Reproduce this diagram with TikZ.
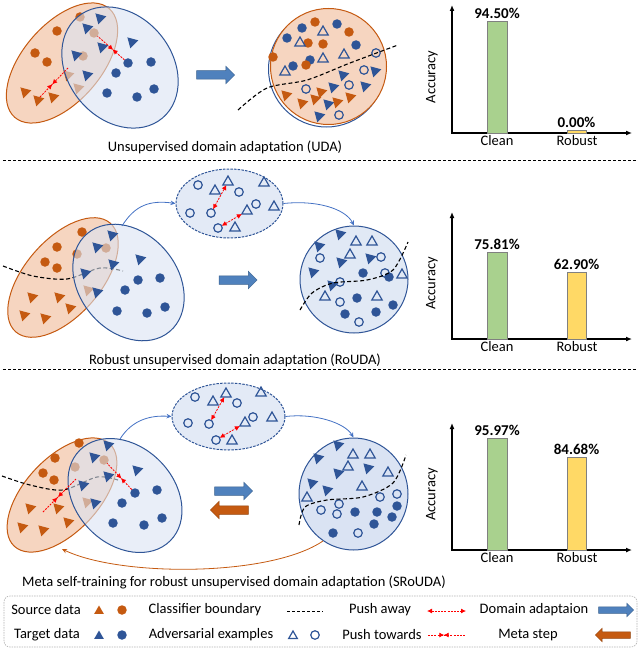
\documentclass[tikz,border=0pt]{standalone}
\usepackage{fontspec}
\setmainfont{Carlito}
\usepackage{xcolor}
\usepackage{tikz}
\usetikzlibrary{shapes,arrows,positioning,calc,decorations.markings,arrows.meta}

\definecolor{srcc}{HTML}{C55A11}
\definecolor{tgtc}{HTML}{2F5597}
\definecolor{srcfill}{HTML}{F6D5C0}
\definecolor{tgtfill}{HTML}{DAE3F3}
\definecolor{arrowblue}{HTML}{4F81BD}
\definecolor{linkblue}{HTML}{4472C4}
\definecolor{barg}{HTML}{A9D18E}
\definecolor{bary}{HTML}{FFD966}

\tikzset{
  mk/.style={inner sep=0pt, outer sep=0pt},
  srcTu/.style={mk, regular polygon, regular polygon sides=3, fill=srcc, minimum size=13pt},
  srcT/.style={srcTu, rotate=-75},
  srcC/.style={mk, circle, fill=srcc, minimum size=9.5pt},
  tgtTu/.style={mk, regular polygon, regular polygon sides=3, fill=tgtc, minimum size=13pt},
  tgtT/.style={tgtTu, rotate=-75},
  tgtC/.style={mk, circle, fill=tgtc, minimum size=9.5pt},
  advT/.style={mk, regular polygon, regular polygon sides=3, draw=tgtc, line width=1.2pt, minimum size=12pt},
  advC/.style={mk, circle, draw=tgtc, line width=1.2pt, minimum size=8.5pt},
  srcell/.style={ellipse, draw=srcc, line width=1pt, fill=srcfill, inner sep=0pt},
  tgtell/.style={ellipse, draw=tgtc, line width=1pt, fill=tgtfill, fill opacity=0.6, inner sep=0pt},
  advell/.style={ellipse, draw=tgtc, line width=1pt, dash pattern=on 2.5pt off 1.2pt, fill=tgtfill!75, inner sep=0pt},
  resell/.style={ellipse, draw=tgtc, line width=1pt, fill=tgtfill!80, inner sep=0pt},
  bnd/.style={line width=1.1pt, dash pattern=on 4pt off 2.5pt},
  pushaway/.style={red, line width=0.8pt, dash pattern=on 2pt off 1.2pt,
    {Latex[length=5pt,width=5pt]}-{Latex[length=5pt,width=5pt]}},
  pushto/.style={red, line width=0.8pt, dash pattern=on 2pt off 1.2pt, postaction={decorate},
    decoration={markings,
      mark=at position 0.44 with {\arrow{Latex[length=5pt,width=5pt]}},
      mark=at position 0.56 with {\arrow{Latex[length=5pt,width=5pt,reversed]}}}},
  link/.style={linkblue, line width=0.8pt, -{Stealth[length=5pt,width=4.5pt]}},
  metalink/.style={srcc, line width=0.8pt, -{Stealth[length=5pt,width=4.5pt]}},
  bigarrow/.style={single arrow, inner xsep=0pt, inner ysep=4pt, single arrow head extend=4.5pt,
    minimum height=38pt, line width=0.5pt},
  daarrow/.style={bigarrow, fill=arrowblue, draw=arrowblue!75!black},
  metaarrow/.style={bigarrow, fill=srcc, draw=srcc!75!black, shape border rotate=180},
  axis/.style={line width=1.2pt, {Latex[length=6pt,width=5pt]}-{Latex[length=6pt,width=5pt]}},
  bar/.style={draw=gray, line width=0.8pt},
  val/.style={font=\fontsize{15}{16}\selectfont\bfseries, inner sep=2.5pt, anchor=south},
  sep/.style={line width=0.8pt, dash pattern=on 3pt off 2pt},
}

\begin{document}
\begin{tikzpicture}[x=1pt, y=-1pt, font=\fontsize{14.5}{16}\selectfont]
    \useasboundingbox (0,0) rectangle (640,650);

    % ---------- UDA ----------
    \node[srcell, minimum width=144pt, minimum height=78pt, rotate=49] (s1) at (62,63) {};
    \foreach \x/\y [count=\i] in {57/31,35/53,47/62,80/17,94/33,83/56}
        \node[srcC] (sc1-\i) at (\x,\y) {};
    \foreach \x/\y [count=\i] in {25/92,38/100,53/97,68/75,78/88}
        \node[srcT] (st1-\i) at (\x,\y) {};
    \node[tgtell, minimum width=132pt, minimum height=104pt, rotate=-50] (t1) at (120,67.5) {};
    \foreach \x/\y [count=\i] in {100/18,87/28,102/47,76/55,87/75,132/42}
        \node[tgtT] (tt1-\i) at (\x,\y) {};
    \foreach \x/\y [count=\i] in {128/63,151/62,116/73,107/93,137/97,154/89}
        \node[tgtC] (tc1-\i) at (\x,\y) {};
    \draw[pushto] (tc1-1) -- (sc1-5);
    \coordinate (pt1a) at (40,97);
    \coordinate (pt1b) at (68,68);
    \draw[pushto] (pt1a) -- (pt1b);

    \node[daarrow] (da1) at (213.5,75) {};

    % mixed domain after UDA
    \node[circle, draw=tgtc, line width=1pt, minimum size=116pt, inner sep=0pt] (u1b) at (326.5,69) {};
    \node[circle, draw=srcc, line width=1pt, fill=srcfill, minimum size=116pt, inner sep=0pt] (u1) at (328.5,66.5) {};
    \foreach \x/\y [count=\i] in {302/28,337/24,287/38,356/45,293/66,310/60}
        \node[tgtC] (uf1-\i) at (\x,\y) {};
    \foreach \x/\y [count=\i] in {315/22,349/32,308/43,323/44,273/57,306/65}
        \node[srcC] (us1-\i) at (\x,\y) {};
    \foreach \x/\y [count=\i] in {323/32,300/43,323/59,344/55,285/72}
        \node[advT] (ua1-\i) at (\x,\y) {};
    \foreach \x/\y [count=\i] in {376/53,364/70,306/89,349/85,339/115}
        \node[advC] (uc1-\i) at (\x,\y) {};
    \foreach \x/\y [count=\i] in {375/71,343/75,333/87,365/86,328/104,319/116}
        \node[tgtT] (ut1-\i) at (\x,\y) {};
    \foreach \x/\y [count=\i] in {286/95,302/103,321/92,315/99,337/102,350/97}
        \node[srcT] (uo1-\i) at (\x,\y) {};
    \draw[bnd] plot[smooth] coordinates {(238,110) (267,88) (307,80) (350,63) (398,45)};

    \node (cap1) at (225,147) {Unsupervised domain adaptation (UDA)};
    \draw[sep] (3,160) -- (637,160);

    % ---------- RoUDA ----------
    \node[srcell, minimum width=144pt, minimum height=76pt, rotate=49] (s2) at (63,277.5) {};
    \foreach \x/\y [count=\i] in {82/232,57/247,45/262,57/268,77/254,106/248}
        \node[srcC] (sc2-\i) at (\x,\y) {};
    \foreach \x/\y [count=\i] in {32/297,59/297,70/308,24/315,45/318,88/290}
        \node[srcT] (st2-\i) at (\x,\y) {};
    \draw[bnd] plot[smooth] coordinates {(3,266) (33,276) (67,279) (100,268) (123,271)};
    \node[tgtell, minimum width=128pt, minimum height=98pt, rotate=-50] (t2) at (128.5,282.5) {};
    \foreach \x/\y [count=\i] in {112/235,97/247,113/264,85/273,97/292,140/259}
        \node[tgtT] (tt2-\i) at (\x,\y) {};
    \foreach \x/\y [count=\i] in {138/280,160/278,125/290,165/307,117/311,147/313}
        \node[tgtC] (tc2-\i) at (\x,\y) {};

    % adversarial examples
    \node[advell, minimum width=107pt, minimum height=69pt] (a2) at (229.5,203.5) {};
    \foreach \x/\y [count=\i] in {198/185,239/192,190/213,211/213,256/204,218/228}
        \node[advC] (ac2-\i) at (\x,\y) {};
    \foreach \x/\y [count=\i] in {228/182,215/191,264/183,274/207,247/211,235/228}
        \node[advT] (at2-\i) at (\x,\y) {};
    \draw[pushaway] (ac2-4) -- (at2-1);
    \draw[pushaway] (ac2-6) -- (at2-5);

    % robust target
    \node[resell, minimum width=108pt, minimum height=107pt] (r2) at (354,279.5) {};
    \foreach \x/\y [count=\i] in {340/234,319/246,341/262,313/272,370/258,332/285}
        \node[tgtT] (rt2-\i) at (\x,\y) {};
    \foreach \x/\y [count=\i] in {356/242,372/242,350/255,402/275,325/297,377/297}
        \node[advT] (ra2-\i) at (\x,\y) {};
    \foreach \x/\y [count=\i] in {320/258,381/257,340/282,385/273,340/302,359/322}
        \node[advC] (rc2-\i) at (\x,\y) {};
    \foreach \x/\y [count=\i] in {363/273,389/277,357/298,393/305,345/314,376/312}
        \node[tgtC] (rf2-\i) at (\x,\y) {};
    \draw[bnd] plot[smooth] coordinates {(300,310) (312,293) (333,283) (367,280) (393,270) (408,242)};

    \coordinate (l2) at (122,226);
    \draw[link] (l2) .. controls (135,205) and (150,200) .. (a2.west);
    \draw[link] (a2.east) .. controls (315,200) and (345,208) .. (r2.north);
    \node[daarrow] (da2) at (236,280) {};

    \node (cap2) at (235,360) {Robust unsupervised domain adaptation (RoUDA)};
    \draw[sep] (3,369) -- (637,369);

    % ---------- SRoUDA ----------
    \node[srcell, minimum width=140pt, minimum height=74pt, rotate=47] (s3) at (62,495) {};
    \foreach \x/\y [count=\i] in {79/443,55/458,43/473,54/480,75/467,104/460}
        \node[srcC] (sc3-\i) at (\x,\y) {};
    \foreach \x/\y [count=\i] in {30/508,58/508,68/522,22/527,43/530,87/502}
        \node[srcT] (st3-\i) at (\x,\y) {};
    \draw[bnd] plot[smooth] coordinates {(2,476) (30,485) (63,490) (97,477) (118,480)};
    \node[tgtell, minimum width=128pt, minimum height=98pt, rotate=-45] (t3) at (125,495.5) {};
    \foreach \x/\y [count=\i] in {108/445,94/457,108/476,83/485,95/503,137/470}
        \node[tgtT] (tt3-\i) at (\x,\y) {};
    \foreach \x/\y [count=\i] in {135/493,157/490,122/503,162/518,113/523,144/525}
        \node[tgtC] (tc3-\i) at (\x,\y) {};
    \draw[pushto] (tc3-1) -- (sc3-6);
    \coordinate (pt3a) at (43,512);
    \coordinate (pt3b) at (76,479);
    \draw[pushto] (pt3a) -- (pt3b);

    % adversarial examples
    \node[advell, minimum width=113pt, minimum height=67pt] (a3) at (228.5,416.5) {};
    \foreach \x/\y [count=\i] in {195/397,237/403,188/423,209/424,253/417,216/440}
        \node[advC] (ac3-\i) at (\x,\y) {};
    \foreach \x/\y [count=\i] in {226/394,213/402,261/393,272/418,245/423,232/441}
        \node[advT] (at3-\i) at (\x,\y) {};
    \draw[pushaway] (ac3-4) -- (at3-1);
    \draw[pushaway] (ac3-6) -- (at3-5);

    % robust target
    \node[resell, fill=tgtfill, minimum width=109pt, minimum height=112pt] (r3) at (353.5,494) {};
    \foreach \x/\y [count=\i] in {338/445,318/458,338/473,368/468,312/483,327/490}
        \node[tgtT] (rt3-\i) at (\x,\y) {};
    \foreach \x/\y [count=\i] in {353/455,370/455,348/467,388/473,362/487,307/498}
        \node[advT] (ra3-\i) at (\x,\y) {};
    \foreach \x/\y [count=\i] in {380/497,397/494,339/504,321/510,337/514,358/533}
        \node[advC] (rc3-\i) at (\x,\y) {};
    \foreach \x/\y [count=\i] in {397/506,355/512,377/512,392/517,374/524,333/533}
        \node[tgtC] (rf3-\i) at (\x,\y) {};
    \draw[bnd] plot[smooth] coordinates {(299,525) (305,507) (327,500) (363,497) (393,483) (406,455)};

    \coordinate (l3) at (120,439);
    \coordinate (o3) at (62,549);
    \draw[link] (l3) .. controls (132,420) and (150,415) .. (a3.west);
    \draw[link] (a3.east) .. controls (315,413) and (345,423) .. (r3.north);
    \draw[metalink] (r3.-123) .. controls (270,577) and (120,577) .. (o3);
    \node[daarrow] (da3) at (231.5,491) {};
    \node[metaarrow] (ms3) at (231.5,510) {};

    \node (cap3) at (234,582) {Meta self-training for robust unsupervised domain adaptation (SRoUDA)};

    % ---------- accuracy charts ----------
    \foreach \ya/\yb/\hc/\hr/\lc/\lr [count=\k] in
        {5/133/21/130/94.50/0.00, 212/339/252/272/75.81/62.90, 423/550/438/457/95.97/84.68}{
        \draw[axis] (452,\ya) -- (452,\yb) -- (632,\yb);
        \draw[bar, fill=barg] (487,\yb) rectangle (507,\hc);
        \draw[bar, fill=bary] (567,\yb) rectangle (586,\hr);
        \node[val] (vc\k) at (497,\hc) {\lc\%};
        \node[val] (vr\k) at (576.5,\hr) {\lr\%};
        \node[anchor=north, inner sep=2.5pt] (xc\k) at (497,\yb) {Clean};
        \node[anchor=north, inner sep=2.5pt] (xr\k) at (577,\yb) {Robust};
        \node[rotate=90] (ya\k) at (432,{(\ya+\yb)/2+8}) {Accuracy};
    }

    % ---------- legend ----------
    \draw[gray!60, line width=0.6pt, dash pattern=on 1.5pt off 1pt, rounded corners=6pt] (4,596) rectangle (637,647);
    \node (lsrc) at (46,610) {Source data};
    \node[srcTu, minimum size=11pt] (lsT) at (99,611) {};
    \node[srcC] (lsC) at (122,610) {};
    \node (ltgt) at (47,635) {Target data};
    \node[tgtTu, minimum size=11pt] (ltT) at (99,636) {};
    \node[tgtC] (ltC) at (122,635) {};
    \node (lbnd) at (205,610) {Classifier boundary};
    \coordinate (lb1) at (287,611);
    \coordinate (lb2) at (323,611);
    \draw[bnd, line width=1pt, dash pattern=on 3pt off 2pt] (lb1) -- (lb2);
    \node (ladv) at (211,635) {Adversarial examples};
    \node[advT, minimum size=10pt] (laT) at (293,636) {};
    \node[advC] (laC) at (315,635) {};
    \node (lpa) at (380,610) {Push away};
    \coordinate (lpa1) at (427,611);
    \coordinate (lpa2) at (466,611);
    \draw[pushaway] (lpa1) -- (lpa2);
    \node (lpt) at (382,635) {Push towards};
    \coordinate (lpt1) at (428,635);
    \coordinate (lpt2) at (465,635);
    \draw[pushto] (lpt1) -- (lpt2);
    \node (lda) at (534,610) {Domain adaptaion};
    \node[daarrow, minimum height=35pt, inner ysep=3pt, single arrow head extend=3.5pt] (ldaA) at (614.5,610) {};
    \node (lms) at (528,635) {Meta step};
    \node[metaarrow, minimum height=35pt, inner ysep=3pt, single arrow head extend=3.5pt] (lmsA) at (614.5,635) {};
\end{tikzpicture}
\end{document}
